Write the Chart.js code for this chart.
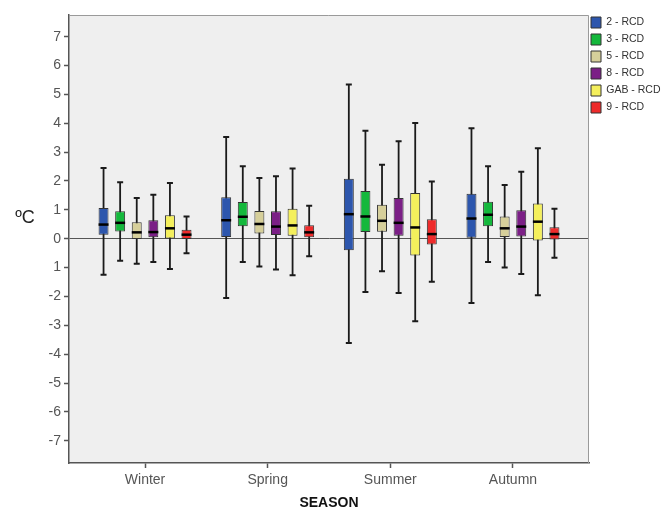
<!DOCTYPE html>
<html>
<head>
<meta charset="utf-8">
<title>Temperature difference by season</title>
<script src="https://cdn.jsdelivr.net/npm/chart.js@4.4.1/dist/chart.umd.min.js"></script>
<style>
  html, body { margin: 0; padding: 0; background: #fff; }
  canvas { display: block; }
</style>
</head>
<body>
<canvas id="boxChart" width="662" height="510"></canvas>
<script>
// -------------------------------
// Data
// -------------------------------
const seasons = ['Winter', 'Spring', 'Summer', 'Autumn'];
const seriesNames = ['2 - RCD', '3 - RCD', '5 - RCD', '8 - RCD', 'GAB - RCD', '9 - RCD'];
const seriesColors = ['#2d56ad', '#14b83c', '#d6cf9a', '#7b1f86', '#f4ef5c', '#ee2b2b'];

// one row per series, one column per season (Winter, Spring, Summer, Autumn)
const whiskerLow = [
  [-1.25, -2.05, -3.61, -2.23],
  [-0.76, -0.81, -1.85, -0.81],
  [-0.87, -0.96, -1.13, -1.00],
  [-0.81, -1.07, -1.88, -1.22],
  [-1.05, -1.27, -2.86, -1.96],
  [-0.50, -0.61, -1.49, -0.66]
];
const quartile1 = [
  [0.14, 0.06, -0.40, 0.03],
  [0.25, 0.43, 0.23, 0.43],
  [-0.01, 0.18, 0.24, 0.06],
  [0.05, 0.13, 0.10, 0.08],
  [0.01, 0.10, -0.58, -0.06],
  [-0.01, 0.05, -0.20, -0.03]
];
const medians = [
  [0.49, 0.64, 0.85, 0.70],
  [0.55, 0.76, 0.77, 0.83],
  [0.22, 0.51, 0.62, 0.36],
  [0.23, 0.42, 0.55, 0.42],
  [0.36, 0.46, 0.39, 0.59],
  [0.14, 0.22, 0.16, 0.16]
];
const quartile3 = [
  [1.06, 1.44, 2.08, 1.56],
  [0.95, 1.27, 1.65, 1.28],
  [0.57, 0.96, 1.18, 0.77],
  [0.64, 0.95, 1.41, 0.99],
  [0.81, 1.04, 1.58, 1.22],
  [0.31, 0.47, 0.67, 0.40]
];
const whiskerHigh = [
  [2.45, 3.52, 5.34, 3.83],
  [1.96, 2.51, 3.74, 2.51],
  [1.41, 2.10, 2.56, 1.86],
  [1.52, 2.16, 3.38, 2.32],
  [1.93, 2.43, 4.01, 3.13],
  [0.77, 1.14, 1.98, 1.04]
];

// y tick labels as printed (the -1 tick is printed without its minus sign)
const yTickValues = [-7, -6, -5, -4, -3, -2, -1, 0, 1, 2, 3, 4, 5, 6, 7];
const yTickLabels = ['-7', '-6', '-5', '-4', '-3', '-2', '1', '0', '1', '2', '3', '4', '5', '6', '7'];

Chart.defaults.font.family = '"Liberation Sans", Arial, sans-serif';

// -------------------------------
// Whiskers, medians, plot frame
// -------------------------------
const boxPlotPlugin = {
  id: 'boxPlot',
  afterLayout(chart) {
    // legend sits right against the plot frame in the original
    const lg = chart.legend;
    lg.left = chart.chartArea.right - 4;
    lg.right = chart.width;
    lg.width = lg.right - lg.left;
    lg.top = 11;
  },
  beforeDraw(chart) {
    const { ctx, chartArea: a } = chart;
    ctx.save();
    ctx.fillStyle = '#efefef';
    ctx.fillRect(a.left, a.top, a.right - a.left, a.bottom - a.top);
    ctx.restore();
  },
  beforeDatasetsDraw(chart) {
    const { ctx } = chart;
    const y = chart.scales.y;
    ctx.save();
    ctx.strokeStyle = '#1a1a1a';
    chart.data.datasets.forEach((ds, k) => {
      chart.getDatasetMeta(k).data.forEach((bar, i) => {
        const yLo = y.getPixelForValue(whiskerLow[k][i]);
        const yHi = y.getPixelForValue(whiskerHigh[k][i]);
        ctx.lineWidth = 1.8;
        ctx.beginPath();
        ctx.moveTo(bar.x, yLo);
        ctx.lineTo(bar.x, yHi);
        ctx.stroke();
        ctx.lineWidth = 2;
        ctx.beginPath();
        ctx.moveTo(bar.x - 3, yLo); ctx.lineTo(bar.x + 3, yLo);
        ctx.moveTo(bar.x - 3, yHi); ctx.lineTo(bar.x + 3, yHi);
        ctx.stroke();
      });
    });
    ctx.restore();
  },
  afterDatasetsDraw(chart) {
    const { ctx } = chart;
    const y = chart.scales.y;
    ctx.save();
    ctx.strokeStyle = '#000';
    ctx.lineWidth = 2.5;
    chart.data.datasets.forEach((ds, k) => {
      chart.getDatasetMeta(k).data.forEach((bar, i) => {
        const ym = y.getPixelForValue(medians[k][i]);
        ctx.beginPath();
        ctx.moveTo(bar.x - bar.width / 2, ym);
        ctx.lineTo(bar.x + bar.width / 2, ym);
        ctx.stroke();
      });
    });
    ctx.restore();
  },
  afterDraw(chart) {
    const { ctx, chartArea: a } = chart;
    ctx.save();
    // light top / right frame
    ctx.strokeStyle = '#9a9a9a';
    ctx.lineWidth = 1;
    ctx.beginPath();
    ctx.moveTo(a.left, a.top + 0.5);
    ctx.lineTo(a.right - 0.5, a.top + 0.5);
    ctx.lineTo(a.right - 0.5, a.bottom);
    ctx.stroke();
    // unit label, written horizontally left of the axis
    ctx.fillStyle = '#222';
    ctx.font = '18px "Liberation Sans", Arial, sans-serif';
    ctx.textAlign = 'center';
    ctx.textBaseline = 'middle';
    ctx.fillText('ºC', a.left - 44, chart.scales.y.getPixelForValue(0.72));
    ctx.restore();
  }
};

// -------------------------------
// Chart
// -------------------------------
const datasets = seriesNames.map((name, k) => ({
  label: name,
  data: seasons.map((s, i) => ({ x: i, y: [quartile1[k][i], quartile3[k][i]] })),
  backgroundColor: seriesColors[k],
  borderColor: '#333',
  borderWidth: 1,
  borderSkipped: false,
  categoryPercentage: 0.812,
  barPercentage: 0.6
}));

new Chart(document.getElementById('boxChart'), {
  type: 'bar',
  data: { datasets },
  plugins: [boxPlotPlugin],
  options: {
    responsive: false,
    animation: false,
    layout: { padding: { top: 15, right: 0, left: 0, bottom: 0 } },
    plugins: {
      tooltip: { enabled: false },
      legend: {
        position: 'right',
        align: 'start',
        maxWidth: 73,
        labels: {
          boxWidth: 10,
          boxHeight: 11,
          padding: 6,
          color: '#333',
          font: { size: 10.5 }
        }
      }
    },
    scales: {
      x: {
        type: 'linear',
        offset: false,
        min: -0.62,
        max: 3.62,
        afterBuildTicks: (axis) => { axis.ticks = seasons.map((s, i) => ({ value: i })); },
        afterFit: (axis) => { axis.height = 47; },
        ticks: {
          autoSkip: false,
          maxRotation: 0,
          padding: 4,
          color: '#555',
          font: { size: 14 },
          callback: (v) => seasons[v]
        },
        grid: { offset: false, drawOnChartArea: false, tickLength: 5, tickColor: '#555', tickWidth: 1.5 },
        border: { color: '#555', width: 1.5 },
        title: {
          display: true,
          text: 'SEASON',
          color: '#111',
          padding: 0,
          font: { size: 14, weight: 'bold', lineHeight: 1 }
        }
      },
      y: {
        min: -7.77,
        max: 7.75,
        afterBuildTicks: (axis) => { axis.ticks = yTickValues.map(v => ({ value: v })); },
        afterFit: (axis) => { axis.width = 69; },
        ticks: {
          padding: 3,
          color: '#555',
          font: { size: 14 },
          callback: (v) => yTickLabels[yTickValues.indexOf(v)]
        },
        grid: {
          drawOnChartArea: true,
          tickLength: 5,
          tickColor: '#555',
          tickWidth: 1.5,
          color: (c) => (c.tick && c.tick.value === 0 ? '#555' : 'rgba(0,0,0,0)'),
          lineWidth: 1
        },
        border: { color: '#555', width: 1.5 }
      }
    }
  }
});
</script>
</body>
</html>
